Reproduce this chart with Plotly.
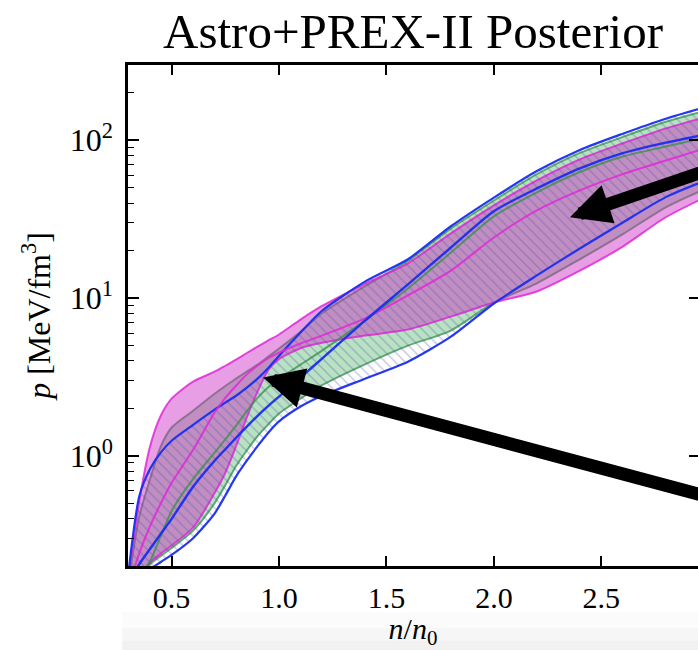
import numpy as np
import plotly.graph_objects as go

# density grid n/n0
n_grid = [0.3, 0.35, 0.4, 0.45, 0.5, 0.6, 0.7, 0.75, 0.8, 0.85, 0.9, 0.95, 1.0,
          1.1, 1.2, 1.4, 1.6, 1.8, 2.0, 2.2, 2.4, 2.6, 2.8, 3.0]

# pressure bands [MeV/fm^3]
magenta_upper = [0.173, 0.52, 1.15, 1.80, 2.30, 2.95, 3.41, 3.72, 4.07, 4.48, 4.92, 5.38, 5.87,
                 7.30, 8.90, 12.3, 16.6, 25.7, 38.7, 55.7, 75.7, 95.7, 119, 142]
magenta_median = [0.149, 0.242, 0.359, 0.50, 0.674, 1.09, 1.88, 2.33, 2.78, 3.28, 3.73, 4.15, 4.51,
                  5.15, 5.78, 7.43, 10.4, 14.9, 24.2, 35.9, 48.1, 61.0, 74.4, 90.3]
magenta_lower = [0.130, 0.165, 0.210, 0.240, 0.270, 0.350, 0.580, 0.78, 1.15, 1.75, 2.55, 3.50, 4.10,
                 4.80, 5.20, 5.78, 6.31, 7.62, 9.36, 11.0, 14.9, 21.2, 32.5, 44.6]

green_upper = [0.161, 0.416, 0.714, 1.15, 1.51, 1.93, 2.47, 2.77, 3.08, 3.42, 3.78, 4.25, 4.78,
               6.10, 8.00, 11.9, 17.2, 27.6, 41.5, 60.9, 83.1, 105, 131, 156]
green_median = [0.139, 0.173, 0.215, 0.31, 0.447, 0.714, 1.045, 1.27, 1.55, 1.92, 2.33, 2.72, 3.08,
                3.78, 4.64, 7.19, 11.5, 19.4, 32.9, 46.8, 62.9, 78.8, 91.3, 105]
green_lower = [0.128, 0.160, 0.205, 0.232, 0.260, 0.335, 0.500, 0.65, 0.860, 1.08, 1.33, 1.58, 1.85,
               2.30, 2.80, 3.80, 4.99, 6.22, 9.36, 12.4, 17.6, 25.4, 37.6, 50.3]

blue_upper = [0.186, 0.557, 0.827, 1.05, 1.245, 1.57, 1.96, 2.17, 2.40, 2.70, 3.08, 3.60, 4.31,
              6.04, 8.30, 12.7, 17.6, 28.5, 43.3, 63.8, 86.8, 110, 137, 165]
blue_median = [0.161, 0.206, 0.257, 0.32, 0.398, 0.636, 0.929, 1.10, 1.30, 1.53, 1.79, 2.07, 2.37,
               3.13, 4.13, 7.19, 12.2, 20.9, 35.5, 49.5, 66.4, 82.8, 96.5, 110]
blue_lower = [0.120, 0.150, 0.190, 0.212, 0.235, 0.300, 0.430, 0.56, 0.740, 0.93, 1.15, 1.40, 1.65,
              2.05, 2.40, 3.08, 3.95, 5.69, 9.23, 13.9, 20.6, 30.1, 43.6, 56.6]

x_ticks = [0.5, 1.0, 1.5, 2.0, 2.5, 3.0]
y_major = [1, 10, 100]

# arrow annotations (head point, tail point) in data units
arrow_upper = dict(head=(2.354, 32.5), tail=(3.24, 84.0))
arrow_lower = dict(head=(0.926, 3.13), tail=(3.24, 0.448))

FONT = "Liberation Serif"
MAG = "rgba(225,40,215,0.85)"
GRN = "rgba(50,145,70,0.75)"
BLU = "rgba(25,45,240,0.95)"

fig = go.Figure()

def band(lower, upper, line_color, fill_kwargs, width):
    fig.add_trace(go.Scatter(x=n_grid, y=lower, mode="lines",
                             line=dict(color=line_color, width=width, shape="spline", smoothing=0.7),
                             showlegend=False, hoverinfo="skip"))
    fig.add_trace(go.Scatter(x=n_grid, y=upper, mode="lines", fill="tonexty",
                             line=dict(color=line_color, width=width, shape="spline", smoothing=0.7),
                             showlegend=False, hoverinfo="skip", **fill_kwargs))

band(green_lower, green_upper, GRN, dict(fillcolor="rgba(60,175,85,0.36)"), 2)
band(magenta_lower, magenta_upper, MAG, dict(fillcolor="rgba(205,40,195,0.45)"), 2)
band(blue_lower, blue_upper, BLU,
     dict(fillcolor="rgba(0,0,0,0)",
          fillpattern=dict(shape="\\", fgcolor="rgba(75,75,170,0.7)", bgcolor="rgba(0,0,0,0)",
                           fillmode="overlay", size=7, solidity=0.18)), 2.2)

for med, col, w in [(green_median, GRN, 2), (magenta_median, MAG, 2), (blue_median, BLU, 2.4)]:
    fig.add_trace(go.Scatter(x=n_grid, y=med, mode="lines",
                             line=dict(color=col, width=w, shape="spline", smoothing=0.7),
                             showlegend=False, hoverinfo="skip"))

# invisible trace for the right-side tick axis
fig.add_trace(go.Scatter(x=[1.0], y=[1.0], yaxis="y2", mode="markers",
                         marker=dict(opacity=0), showlegend=False, hoverinfo="skip"))

minor_vals = [m * 10.0 ** e for e in (-1, 0, 1, 2) for m in range(2, 10) if 0.2 <= m * 10.0 ** e <= 300]

annots = []
for a in (arrow_upper, arrow_lower):
    annots.append(dict(x=a["head"][0], y=np.log10(a["head"][1]), xref="x", yref="y",
                       ax=a["tail"][0], ay=np.log10(a["tail"][1]), axref="x", ayref="y",
                       text="", showarrow=True, arrowhead=2, arrowsize=0.62, arrowwidth=13,
                       arrowcolor="black", standoff=0, startstandoff=0))

shapes = []
for y_top, col in [(38, "#fbfbfb"), (22, "#f6f6f6"), (9, "#f1f1f1")]:
    shapes.append(dict(type="rect", xref="paper", yref="paper", x0=-0.01, x1=1.0,
                       y0=-84 / 501, y1=-(84 - y_top) / 501,
                       fillcolor=col, line=dict(width=0), layer="below"))

fig.update_layout(
    width=698, height=650,
    margin=dict(l=128, r=0, t=65, b=84),
    paper_bgcolor="white", plot_bgcolor="white",
    font=dict(family=FONT, size=31, color="black"),
    title=dict(text="Astro+PREX-II Posterior", x=0.5, xref="paper", xanchor="center",
               y=1 - 31 / 650, yref="container", yanchor="middle",
               font=dict(family=FONT, size=49, color="black")),
    xaxis=dict(range=[0.297, 2.95], tickvals=x_ticks, ticktext=[f"{v:.1f}" for v in x_ticks],
               ticks="inside", ticklen=10, tickwidth=1.5, tickcolor="black",
               showline=True, linewidth=2.5, linecolor="black", mirror="ticks",
               showgrid=False, zeroline=False, ticklabelstandoff=3,
               tickfont=dict(family=FONT, size=30),
               title=dict(text="<i>n</i>/<i>n</i><sub>0</sub>", standoff=15,
                          font=dict(family=FONT, size=30))),
    yaxis=dict(type="log", range=[np.log10(0.2), np.log10(300)], tickvals=y_major,
               ticktext=["10<sup>0</sup>", "10<sup>1</sup>", "10<sup>2</sup>"],
               ticks="inside", ticklen=11, tickwidth=1.5, tickcolor="black",
               tickfont=dict(family=FONT, size=32),
               minor=dict(tickvals=minor_vals, ticks="inside", ticklen=6, tickwidth=1.2,
                          tickcolor="black", showgrid=False),
               showline=True, linewidth=2.5, linecolor="black", mirror=False,
               showgrid=False, zeroline=False, ticklabelstandoff=6,
               title=dict(text="<i>p</i> [MeV/fm<sup>3</sup>]", standoff=10,
                          font=dict(family=FONT, size=32))),
    yaxis2=dict(type="log", overlaying="y", side="right", anchor="x",
                range=[np.log10(0.2), np.log10(300)], tickvals=y_major,
                ticks="inside", ticklen=9, tickwidth=1.5, tickcolor="black",
                showticklabels=False, showline=False, showgrid=False, zeroline=False),
    annotations=annots,
    shapes=shapes,
)

fig.write_html("out.html")
